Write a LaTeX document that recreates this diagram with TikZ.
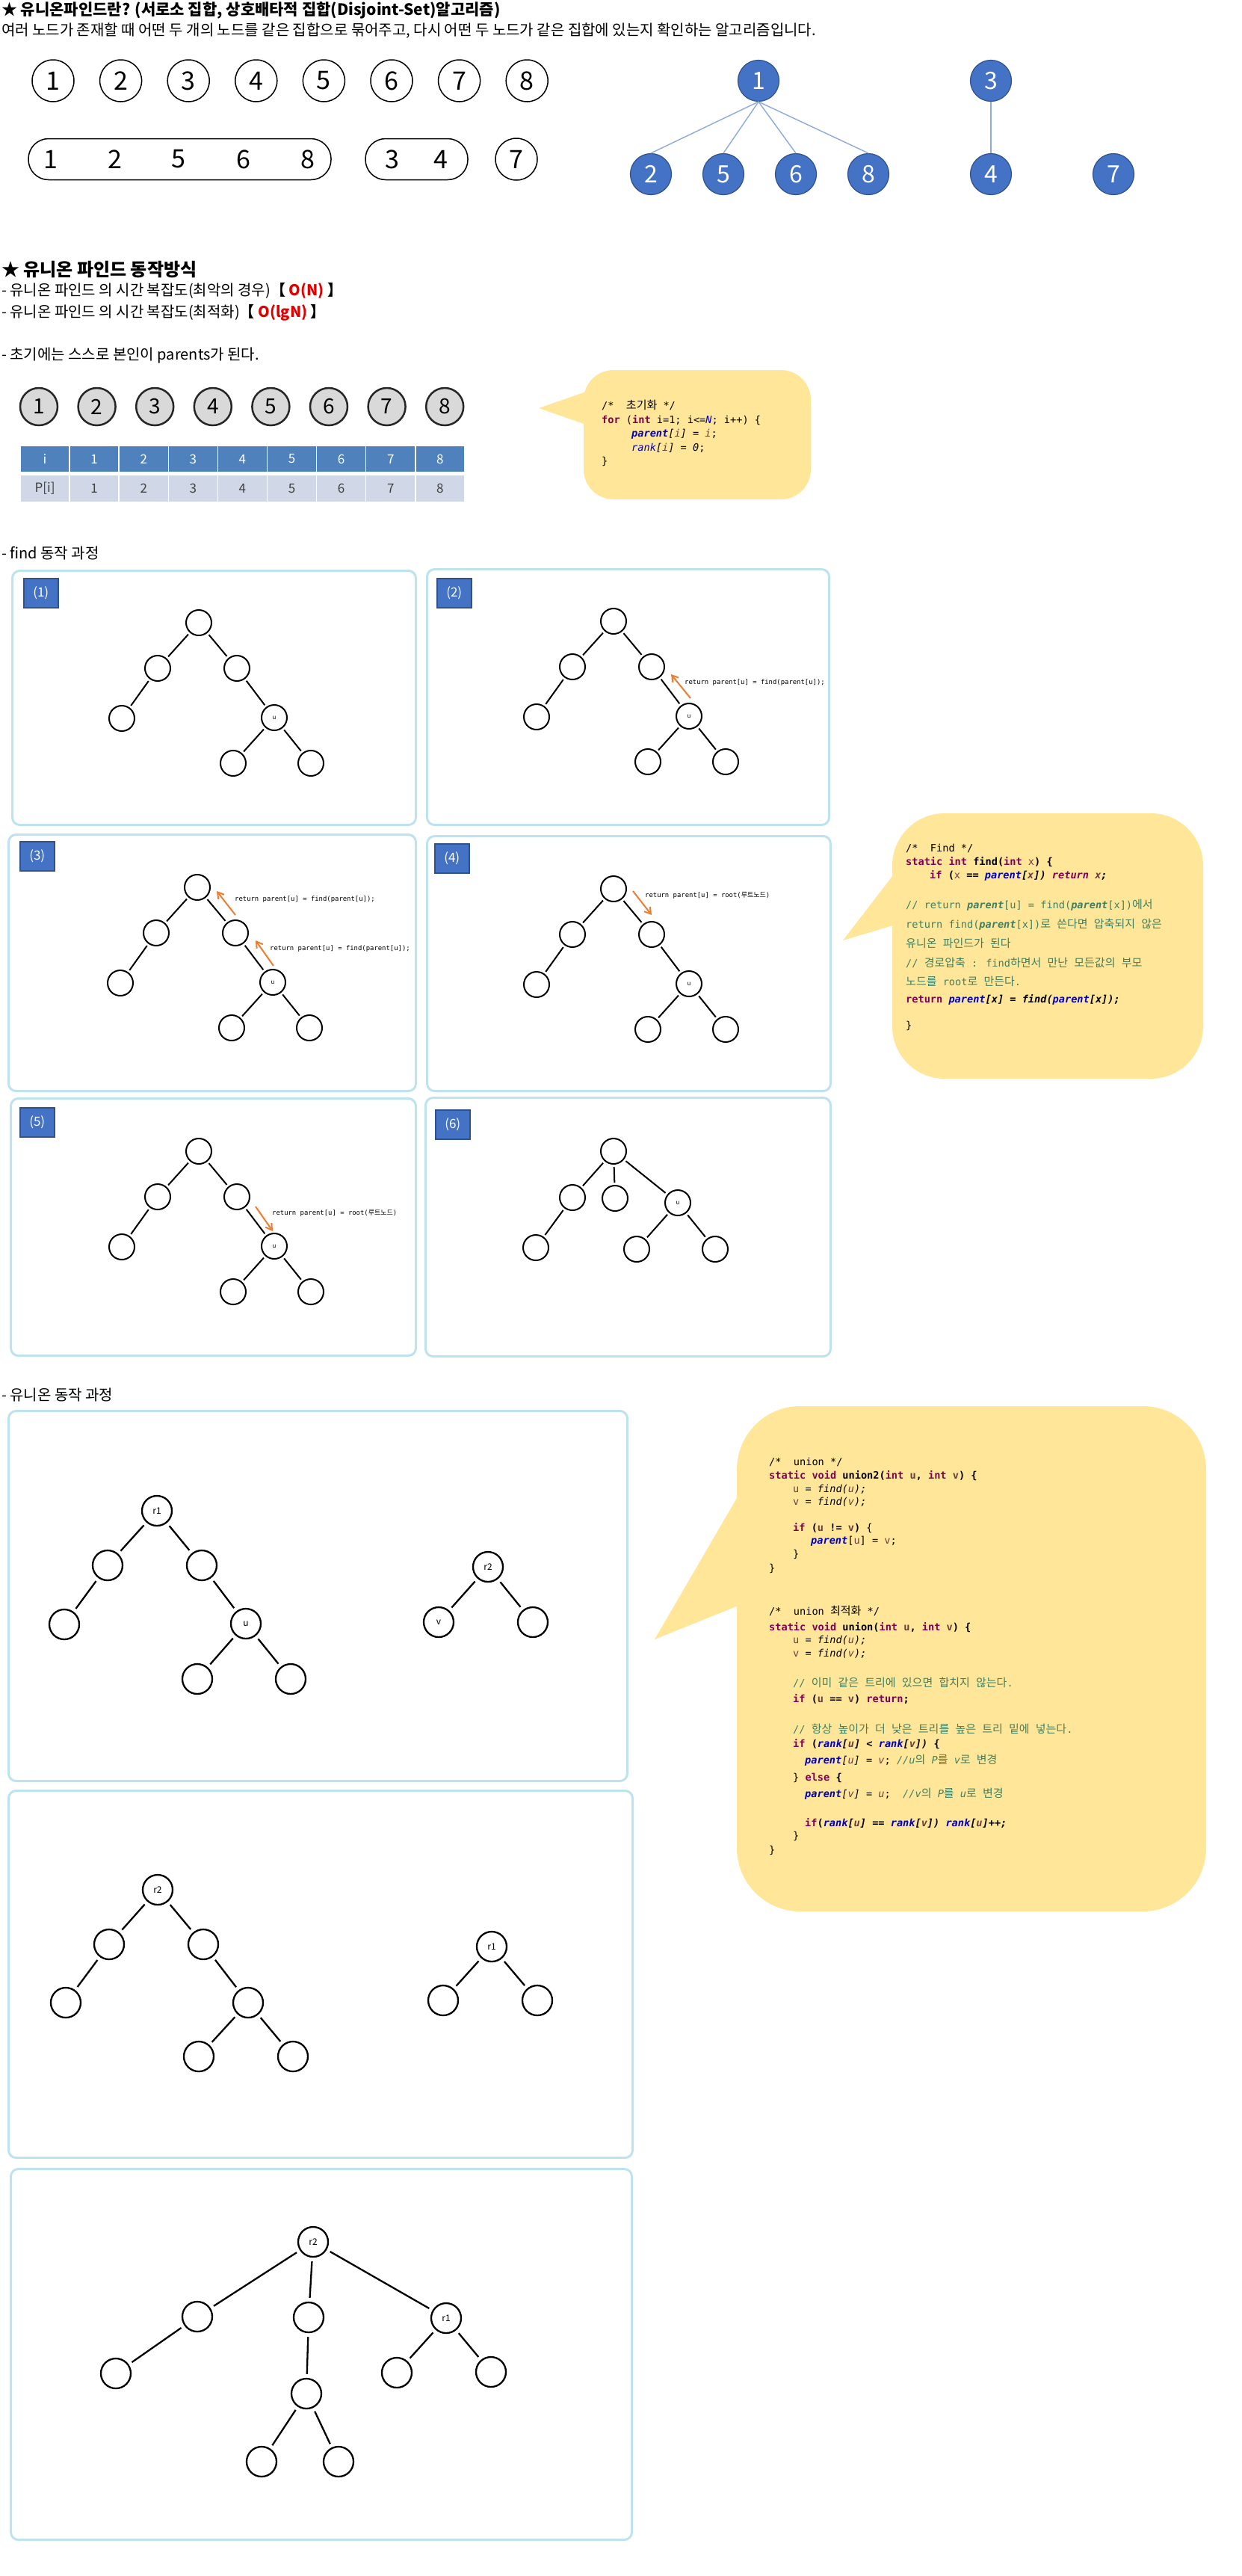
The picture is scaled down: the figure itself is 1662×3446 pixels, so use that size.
\documentclass[tikz,border=0pt]{standalone}
\usepackage{fontspec}
\setmainfont{Noto Sans CJK KR}
\newfontfamily\codefont{DejaVu Sans Mono}
\newfontfamily\krfont{Noto Sans CJK KR}
\usetikzlibrary{arrows.meta}
\definecolor{kw}{HTML}{7F0055}
\definecolor{fld}{HTML}{0000C0}
\definecolor{cmt}{HTML}{3F7F5F}
\definecolor{var}{HTML}{6A3E3E}
\definecolor{bluenode}{HTML}{4472C4}
\definecolor{bluedge}{HTML}{2F528F}
\definecolor{bubble}{HTML}{FFE699}
\definecolor{panelc}{HTML}{BEE2EE}
\definecolor{orng}{HTML}{ED7D31}
\definecolor{thead}{HTML}{4F81BD}
\definecolor{trow}{HTML}{D0D8E8}
\definecolor{tedge}{HTML}{8EA9DB}
\definecolor{graycirc}{HTML}{D9D9D9}
\definecolor{redtxt}{HTML}{E00000}
\newcommand\mykw[1]{\textcolor{kw}{\bfseries #1}}
\newcommand\myfld[1]{\textcolor{fld}{\itshape #1}}
\newcommand\myfldb[1]{\textcolor{fld}{\bfseries\itshape #1}}
\newcommand\myvar[1]{\textcolor{var}{#1}}
\newcommand\mycmt[1]{\textcolor{cmt}{#1}}
\newcommand\myk[1]{{\krfont\fontsize{15}{16}\selectfont #1}}
\newcommand\myks[1]{{\krfont\fontsize{9}{10}\selectfont #1}}
\begin{document}
\begin{tikzpicture}[x=1pt,y=-1pt,
  txt/.style={anchor=west, inner sep=0, outer sep=0, font=\fontsize{20}{24}\selectfont},
  cl/.style={anchor=west, inner sep=0, font=\codefont\fontsize{13.6}{16}\selectfont},
  wc/.style={circle, draw=black, line width=1.5, minimum size=56, inner sep=0, font=\fontsize{34}{34}\selectfont},
  dg/.style={inner sep=0, font=\fontsize{34}{34}\selectfont},
  pillbox/.style={draw=black, line width=1.5, rounded corners=27, minimum height=55, inner sep=0},
  bn/.style={circle, fill=bluenode, draw=bluedge, line width=1.2, minimum size=55, inner sep=0, text=white, font=\fontsize{32}{32}\selectfont},
  be/.style={draw=tedge, line width=1.4},
  gc/.style={circle, fill=graycirc, draw=black!85, line width=2.5, minimum size=50, inner sep=0, font=\fontsize{28}{28}\selectfont},
  th/.style={fill=thead, draw=white, line width=1.5, minimum width=66.1, minimum height=36, inner sep=0, text=white, font=\fontsize{17}{17}\selectfont},
  tr/.style={fill=trow, draw=white, line width=1.5, minimum width=66.1, minimum height=37, inner sep=0, text=black!75, font=\fontsize{17}{17}\selectfont},
  bub/.style={fill=bubble, inner sep=0},
  panel/.style={draw=panelc, line width=3, rounded corners=10, anchor=north west, inner sep=0},
  lbl/.style={fill=bluenode, draw=bluedge, line width=1.5, anchor=north west, minimum width=46, minimum height=39, inner sep=0, text=white, font=\fontsize{17}{17}\selectfont},
  tn/.style={circle, draw=black, line width=2, minimum size=34, inner sep=0, fill=white, font=\fontsize{8}{8}\selectfont},
  te/.style={line width=2, shorten >=3, shorten <=3},
  un/.style={circle, draw=black, line width=2.3, minimum size=40, inner sep=0, fill=white, font=\fontsize{12}{12}\selectfont},
  ue/.style={line width=2.3, shorten >=5, shorten <=5},
  oa/.style={draw=orng, line width=2, -{Straight Barb[length=8pt,width=10pt]}},
  ol/.style={anchor=west, inner sep=0, font=\codefont\fontsize{8.9}{10}\selectfont}
]
\useasboundingbox[fill=white] (0,0) rectangle (1662,3446);

% ---------- header ----------
\node[txt, font=\fontsize{21}{24}\selectfont\bfseries] (title) at (2,14) {★ 유니온파인드란? (서로소 집합, 상호배타적 집합(Disjoint-Set)알고리즘)};
\node[txt] (intro) at (2,41) {여러 노드가 존재할 때 어떤 두 개의 노드를 같은 집합으로 묶어주고, 다시 어떤 두 노드가 같은 집합에 있는지 확인하는 알고리즘입니다.};

\foreach \i in {1,...,8} \node[wc] (w\i) at ({71+90.6*(\i-1)},108) {\i};

\node[pillbox, minimum width=405] (pillA) at (240.5,213) {};
\node[dg] (pa1) at (68,213) {1};
\node[dg] (pa2) at (154,213) {2};
\node[dg] (pa5) at (239,213) {5};
\node[dg] (pa6) at (326,213) {6};
\node[dg] (pa8) at (412,213) {8};
\node[pillbox, minimum width=137] (pillB) at (557.5,213) {};
\node[dg] (pb3) at (525,213) {3};
\node[dg] (pb4) at (590,213) {4};
\node[wc] (w7b) at (691,213) {7};

\node[bn] (b1) at (1015,108) {1};
\node[bn] (b3) at (1326,108) {3};
\node[bn] (b2) at (871,233) {2};
\node[bn] (b5) at (968,233) {5};
\node[bn] (b6) at (1065,233) {6};
\node[bn] (b8) at (1162,233) {8};
\node[bn] (b4) at (1326,233) {4};
\node[bn] (b7) at (1490,233) {7};
\foreach \c in {b2,b5,b6,b8} \draw[be] (b1.south) -- (\c.north);
\draw[be] (b3.south) -- (b4.north);

% ---------- section 2 ----------
\node[txt, font=\fontsize{24}{26}\selectfont\bfseries] (sec2) at (2,361) {★ 유니온 파인드 동작방식};
\node[txt] (cx1) at (2,389) {- 유니온 파인드 의 시간 복잡도(최악의 경우)\textbf{【 \textcolor{redtxt}{O(N)} 】}};
\node[txt] (cx2) at (2,418) {- 유니온 파인드 의 시간 복잡도(최적화)\textbf{【 \textcolor{redtxt}{O(lgN)} 】}};
\node[txt] (init) at (2,476) {- 초기에는 스스로 본인이 parents가 된다.};

\foreach \i in {1,...,8} \node[gc] (g\i) at ({52+77.6*(\i-1)},544) {\i};

\node[th] (h0) at (60.05,614) {i};
\foreach \i in {1,...,8} \node[th] (h\i) at ({60.05+66.1*\i},614) {\i};
\node[tr] (r0) at (60.05,653.5) {P[i]};
\foreach \i in {1,...,8} \node[tr] (r\i) at ({60.05+66.1*\i},653.5) {\i};

% init bubble
\coordinate (w1t) at (721,546);
\coordinate (w1a) at (790,522);
\coordinate (w1b) at (790,570);
\fill[bubble] (w1t) -- (w1a) -- (w1b) -- cycle;
\node[bub, minimum width=304, minimum height=173, rounded corners=40] (cb1) at (933,581.5) {};
\node[cl] (i1) at (805,542) {/*~~\myk{초기화} */};
\node[cl] (i2) at (805,562) {\mykw{for} (\mykw{int} i=1; i<=\myfld{N}; i++) \{};
\node[cl] (i3) at (845,581) {\myfldb{parent}\textit{[\myvar{i}]} = \textit{\myvar{i}};};
\node[cl] (i4) at (845,599) {\myfld{rank}\textit{[\myvar{i}]} = \textit{0};};
\node[cl] (i5) at (805,617) {\}};

% ---------- find ----------
\node[txt] (findt) at (2,740) {- find 동작 과정};

\node[panel, minimum width=540, minimum height=340] (fp1) at (15,762) {};
\node[panel, minimum width=538, minimum height=342] (fp2) at (570,760) {};
\node[panel, minimum width=545, minimum height=343] (fp3) at (10,1115) {};
\node[panel, minimum width=540, minimum height=341] (fp4) at (570,1117) {};
\node[panel, minimum width=542, minimum height=344] (fp5) at (13,1468) {};
\node[panel, minimum width=542, minimum height=346] (fp6) at (568,1467) {};

\node[lbl] (l1) at (31,773) {(1)};
\node[lbl] (l2) at (584,773) {(2)};
\node[lbl] (l3) at (26,1125) {(3)};
\node[lbl] (l4) at (581,1128) {(4)};
\node[lbl] (l5) at (26,1481) {(5)};
\node[lbl] (l6) at (582,1484) {(6)};

\newcommand\ftree[1]{%
 \node[tn] (#1r) at (266,833) {};
 \node[tn] (#1a) at (211,894) {};
 \node[tn] (#1b) at (317,894) {};
 \node[tn] (#1c) at (163,961) {};
 \node[tn] (#1u) at (367,960) {u};
 \node[tn] (#1d) at (312,1021) {};
 \node[tn] (#1e) at (416,1021) {};
 \draw[te] (#1r) -- (#1a);
 \draw[te] (#1r) -- (#1b);
 \draw[te] (#1a) -- (#1c);
 \draw[te] (#1b) -- (#1u);
 \draw[te] (#1u) -- (#1d);
 \draw[te] (#1u) -- (#1e);}
\begin{scope}\ftree{ta}\end{scope}
\begin{scope}[shift={(555,-2)}]\ftree{tb}\end{scope}
\begin{scope}[shift={(-2,354)}]\ftree{tc}\end{scope}
\begin{scope}[shift={(555,356)}]\ftree{td}\end{scope}
\begin{scope}[shift={(0,707)}]\ftree{te}\end{scope}

% panel 6 tree
\node[tn] (tfr) at (821,1540) {};
\node[tn] (tfa) at (766,1602) {};
\node[tn] (tfb) at (823,1603) {};
\node[tn] (tfu) at (907,1609) {u};
\node[tn] (tfc) at (717,1669) {};
\node[tn] (tfd) at (852,1671) {};
\node[tn] (tfe) at (957,1671) {};
\draw[te] (tfr) -- (tfa);
\draw[te] (tfr) -- (tfb);
\draw[te] (tfr) -- (tfu);
\draw[te] (tfa) -- (tfc);
\draw[te] (tfu) -- (tfd);
\draw[te] (tfu) -- (tfe);

% orange arrows
\coordinate (o2s) at (924,934); \coordinate (o2e) at (898,902);
\draw[oa] (o2s) -- (o2e);
\node[ol] (o2l) at (916,913) {return parent[u] = find(parent[u]);};
\coordinate (o3s) at (315,1224); \coordinate (o3e) at (290,1192);
\draw[oa] (o3s) -- (o3e);
\node[ol] (o3l) at (314,1203) {return parent[u] = find(parent[u]);};
\coordinate (o3t) at (366,1292); \coordinate (o3f) at (342,1258);
\draw[oa] (o3t) -- (o3f);
\node[ol] (o3m) at (361,1269) {return parent[u] = find(parent[u]);};
\coordinate (o4s) at (847,1192); \coordinate (o4e) at (872,1224);
\draw[oa] (o4s) -- (o4e);
\node[ol] (o4l) at (863,1198) {return parent[u] = root(\myks{루트노드})};
\coordinate (o5s) at (342,1614); \coordinate (o5e) at (365,1647);
\draw[oa] (o5s) -- (o5e);
\node[ol] (o5l) at (364,1623) {return parent[u] = root(\myks{루트노드})};

% find bubble
\coordinate (w2t) at (1128,1258);
\coordinate (w2a) at (1228,1128);
\coordinate (w2b) at (1228,1228);
\fill[bubble] (w2t) -- (w2a) -- (w2b) -- cycle;
\node[bub, minimum width=416, minimum height=355, rounded corners=70] (cb2) at (1402,1265.5) {};
\node[cl] (f1) at (1212,1135) {/*~~Find */};
\node[cl] (f2) at (1212,1153) {\mykw{static} \mykw{int} \textbf{find(}\mykw{int} \myvar{x}\textbf{) \{}};
\node[cl] (f3) at (1244,1171) {\mykw{if} \textbf{(}\myvar{x} \textbf{==} \myfldb{parent}\textbf{\itshape[\myvar{x}])} \textcolor{kw}{\bfseries\itshape return} \textbf{\itshape\myvar{x};}};
\node[cl] (f4) at (1212,1211) {\mycmt{// return \textbf{\itshape parent}[u] = find(\textbf{\itshape parent}[x])\myk{에서}}};
\node[cl] (f5) at (1212,1237) {\mycmt{return find(\textbf{\itshape parent}[x])\myk{로} \myk{쓴다면} \myk{압축되지} \myk{않은}}};
\node[cl] (f6) at (1212,1262) {\mycmt{\myk{유니온} \myk{파인드가} \myk{된다}}};
\node[cl] (f7) at (1212,1288) {\mycmt{// \myk{경로압축} : find\myk{하면서} \myk{만난} \myk{모든값의} \myk{부모}}};
\node[cl] (f8) at (1212,1313) {\mycmt{\myk{노드를} root\myk{로} \myk{만든다}.}};
\node[cl] (f9) at (1212,1337) {\mykw{return} \myfldb{parent}\textbf{\itshape[x]} \textbf{=} \textbf{\itshape find(}\myfldb{parent}\textbf{\itshape[x]);}};
\node[cl] (f10) at (1212,1372) {\}};

% ---------- union ----------
\node[txt] (uniont) at (2,1866) {- 유니온 동작 과정};

\node[panel, minimum width=828, minimum height=495] (up1) at (10,1886) {};
\node[panel, minimum width=835, minimum height=491] (up2) at (10,2394) {};
\node[panel, minimum width=831, minimum height=496] (up3) at (13,2900) {};

% union panel 1
\node[un] (ar1) at (210,2021) {r1};
\node[un] (aL) at (144,2094) {};
\node[un] (aR) at (270,2094) {};
\node[un] (aLL) at (86,2173) {};
\node[un] (au) at (329,2172) {u};
\node[un] (auL) at (264,2246) {};
\node[un] (auR) at (389,2246) {};
\node[un] (ar2) at (653,2096) {r2};
\node[un] (av) at (587,2170) {v};
\node[un] (ar2R) at (713,2170) {};
\draw[ue] (ar1) -- (aL);
\draw[ue] (ar1) -- (aR);
\draw[ue] (aL) -- (aLL);
\draw[ue] (aR) -- (au);
\draw[ue] (au) -- (auL);
\draw[ue] (au) -- (auR);
\draw[ue] (ar2) -- (av);
\draw[ue] (ar2) -- (ar2R);

% union panel 2
\node[un] (br2) at (211,2528) {r2};
\node[un] (bL) at (146,2601) {};
\node[un] (bR) at (272,2601) {};
\node[un] (bLL) at (88,2679) {};
\node[un] (bRR) at (332,2679) {};
\node[un] (bRRL) at (266,2751) {};
\node[un] (bRRR) at (392,2751) {};
\node[un] (br1) at (658,2604) {r1};
\node[un] (br1L) at (593,2676) {};
\node[un] (br1R) at (719,2676) {};
\draw[ue] (br2) -- (bL);
\draw[ue] (br2) -- (bR);
\draw[ue] (bL) -- (bLL);
\draw[ue] (bR) -- (bRR);
\draw[ue] (bRR) -- (bRRL);
\draw[ue] (bRR) -- (bRRR);
\draw[ue] (br1) -- (br1L);
\draw[ue] (br1) -- (br1R);

% union panel 3
\node[un] (cr2) at (419,2999) {r2};
\node[un] (cA) at (264,3099) {};
\node[un] (cB) at (413,3100) {};
\node[un] (cr1) at (597,3101) {r1};
\node[un] (cAL) at (155,3175) {};
\node[un] (cBC) at (410,3202) {};
\node[un] (cBCL) at (350,3293) {};
\node[un] (cBCR) at (453,3293) {};
\node[un] (cr1L) at (531,3174) {};
\node[un] (cr1R) at (657,3173) {};
\draw[ue] (cr2) -- (cA);
\draw[ue] (cr2) -- (cB);
\draw[ue] (cr2) -- (cr1);
\draw[ue] (cA) -- (cAL);
\draw[ue] (cB) -- (cBC);
\draw[ue] (cBC) -- (cBCL);
\draw[ue] (cBC) -- (cBCR);
\draw[ue] (cr1) -- (cr1L);
\draw[ue] (cr1) -- (cr1R);

% union bubble
\coordinate (w3t) at (876,2193);
\coordinate (w3a) at (1000,1980);
\coordinate (w3b) at (1000,2143);
\fill[bubble] (w3t) -- (w3a) -- (w3b) -- cycle;
\node[bub, minimum width=628, minimum height=676, rounded corners=85] (cb3) at (1300,2219) {};
\node[cl] (u1) at (1029,1956) {/*~~union */};
\node[cl] (u2) at (1029,1974) {\mykw{static} \mykw{void} \textbf{union2(}\mykw{int} \textbf{\myvar{u},} \mykw{int} \textbf{\myvar{v}) \{}};
\node[cl] (u3) at (1061,1992) {\myvar{u} = \textit{find(\myvar{u});}};
\node[cl] (u4) at (1061,2009) {\myvar{v} = \textit{find(\myvar{v});}};
\node[cl] (u5) at (1061,2044) {\mykw{if} \textbf{(\myvar{u} != \myvar{v})} \{};
\node[cl] (u6) at (1085,2062) {\myfldb{parent}[\myvar{u}] = \myvar{v};};
\node[cl] (u7) at (1061,2079) {\}};
\node[cl] (u8) at (1029,2098) {\}};
\node[cl] (u9) at (1029,2155) {/*~~union \myk{최적화} */};
\node[cl] (u10) at (1029,2177) {\mykw{static} \mykw{void} \textbf{union(}\mykw{int} \textbf{\myvar{u},} \mykw{int} \textbf{\myvar{v}) \{}};
\node[cl] (u11) at (1061,2194) {\myvar{u} = \textit{find(\myvar{u});}};
\node[cl] (u12) at (1061,2212) {\myvar{v} = \textit{find(\myvar{v});}};
\node[cl] (u13) at (1061,2251) {\mycmt{// \myk{이미} \myk{같은} \myk{트리에} \myk{있으면} \myk{합치지} \myk{않는다}.}};
\node[cl] (u14) at (1061,2273) {\mykw{if} \textbf{(\myvar{u} == \myvar{v})} \mykw{return}\textbf{;}};
\node[cl] (u15) at (1061,2313) {\mycmt{// \myk{항상} \myk{높이가} \myk{더} \myk{낮은} \myk{트리를} \myk{높은} \myk{트리} \myk{밑에} \myk{넣는다}.}};
\node[cl] (u16) at (1061,2333) {\mykw{if} \textbf{(}\myfldb{rank}\textbf{\itshape[\myvar{u}]} \textbf{<} \myfldb{rank}\textbf{\itshape[\myvar{v}])} \textbf{\{}};
\node[cl] (u17) at (1077,2355) {\myfldb{parent}\textit{[\myvar{u}]} = \textit{\myvar{v}}; \mycmt{\itshape //u\myk{의} P\myk{를} v\myk{로} \myk{변경}}};
\node[cl] (u18) at (1061,2378) {\} \mykw{else} \textbf{\{}};
\node[cl] (u19) at (1077,2400) {\myfldb{parent}\textit{[\myvar{v}]} = \textit{\myvar{u}};~~\mycmt{\itshape //v\myk{의} P\myk{를} u\myk{로} \myk{변경}}};
\node[cl] (u20) at (1077,2439) {\mykw{if}\textbf{(}\myfldb{rank}\textbf{\itshape[\myvar{u}]} \textbf{==} \myfldb{rank}\textbf{\itshape[\myvar{v}])} \myfldb{rank}\textbf{\itshape[\myvar{u}]++;}};
\node[cl] (u21) at (1061,2456) {\}};
\node[cl] (u22) at (1029,2475) {\}};
\end{tikzpicture}
\end{document}
